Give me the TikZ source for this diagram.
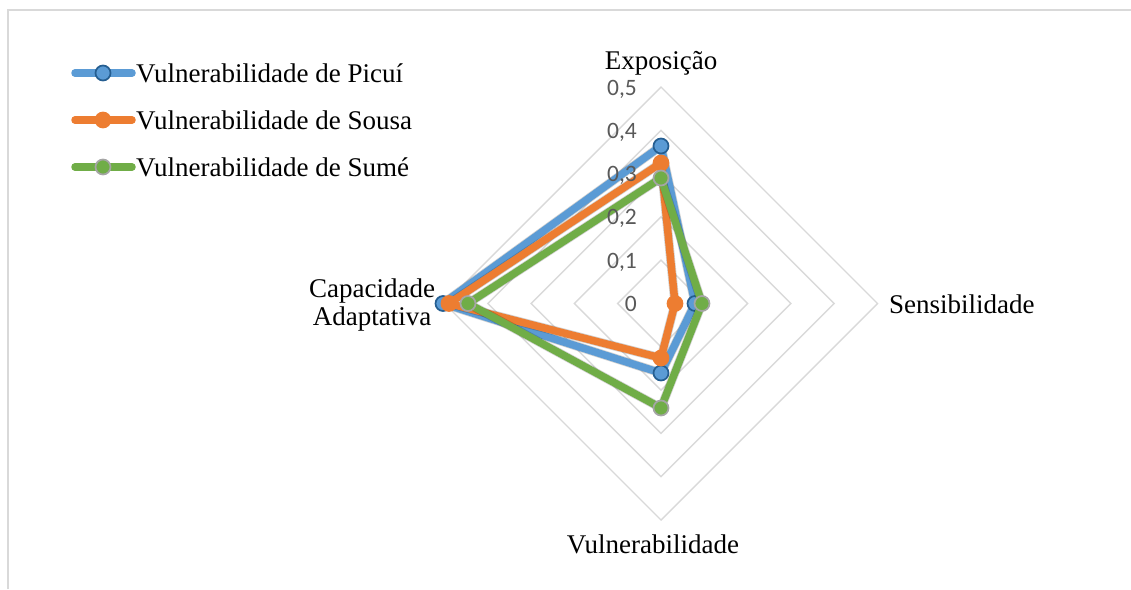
\documentclass[tikz,border=0pt]{standalone}
\usepackage{fontspec}
\setmainfont{Liberation Serif}
\newfontfamily\calib{Carlito}
\definecolor{gridgray}{HTML}{D9D9D9}
\definecolor{framegray}{HTML}{D9D9D9}
\definecolor{valgray}{HTML}{595959}
\definecolor{picblue}{HTML}{5B9BD5}
\definecolor{picdark}{HTML}{255E91}
\definecolor{souorange}{HTML}{ED7D31}
\definecolor{sougreen}{HTML}{70AD47}
\definecolor{sumgray}{HTML}{A5A5A5}
\begin{document}
\begin{tikzpicture}[x=1pt,y=-1pt,
  grid/.style={draw=gridgray,line width=1.4},
  frameline/.style={draw=framegray,line width=1.6},
  ser/.style={line width=7.5,line join=round,line cap=round},
  shad/.style={draw=black,opacity=0.18,line width=9,line join=round,line cap=round},
  mk/.style={circle,minimum size=15,inner sep=0,line width=1.7},
  mkpic/.style={mk,fill=picblue,draw=picdark},
  mksou/.style={mk,fill=souorange,draw=souorange},
  mksum/.style={mk,fill=sougreen,draw=sumgray},
  axlab/.style={font=\fontsize{27}{28}\selectfont,inner sep=0},
  leglab/.style={font=\fontsize{27}{28}\selectfont,inner sep=0,anchor=base west},
  vallab/.style={font=\calib\fontsize{23.5}{25}\selectfont,text=valgray,anchor=base east,inner sep=0},
]
\useasboundingbox (0,0) rectangle (1131,589);
% frame
\coordinate (f1) at (8,589);
\coordinate (f2) at (8,10);
\coordinate (f3) at (1131,10);
\draw[frameline] (f1) -- (f2) -- (f3);
% grid rings
\foreach \r in {43.3,86.6,129.9,173.2,216.5}
  \draw[grid] (661,303.5-\r) -- (661+\r,303.5) -- (661,303.5+\r) -- (661-\r,303.5) -- cycle;
% data coordinates
\coordinate (pE) at (661,146);
\coordinate (pS) at (695,303.5);
\coordinate (pV) at (661,373);
\coordinate (pC) at (443,303.5);
\coordinate (oE) at (661,163);
\coordinate (oS) at (675,303.5);
\coordinate (oV) at (661,358);
\coordinate (oC) at (449,303.5);
\coordinate (gE) at (661,178);
\coordinate (gS) at (702,303.5);
\coordinate (gV) at (661,408);
\coordinate (gC) at (468,303.5);
% Picui
\begin{scope}[shift={(1.5,2.5)}]
  \draw[shad] (pE) -- (pS) -- (pV) -- (pC) -- cycle;
\end{scope}
\draw[ser,picblue] (pE) -- (pS) -- (pV) -- (pC) -- cycle;
\foreach \p in {pE,pS,pV,pC} \node[mkpic] at (\p) {};
% Sousa
\begin{scope}[shift={(1.5,2.5)}]
  \draw[shad] (oE) -- (oS) -- (oV) -- (oC) -- cycle;
\end{scope}
\draw[ser,souorange] (oE) -- (oS) -- (oV) -- (oC) -- cycle;
\foreach \p in {oE,oS,oV,oC} \node[mksou] at (\p) {};
% Sume
\begin{scope}[shift={(1.5,2.5)}]
  \draw[shad] (gE) -- (gS) -- (gV) -- (gC) -- cycle;
\end{scope}
\draw[ser,sougreen] (gE) -- (gS) -- (gV) -- (gC) -- cycle;
\foreach \p in {gE,gS,gV,gC} \node[mksum] at (\p) {};
% value labels
\node[vallab] (v0) at (637,311.5) {0};
\node[vallab] (v1) at (637,268.2) {0,1};
\node[vallab] (v2) at (637,224.9) {0,2};
\node[vallab] (v3) at (637,181.6) {0,3};
\node[vallab] (v4) at (637,138.3) {0,4};
\node[vallab] (v5) at (637,95) {0,5};
% axis labels
\node[axlab,anchor=base] (lE) at (661,69) {Exposição};
\node[axlab,anchor=base west] (lS) at (889,313) {Sensibilidade};
\node[axlab,anchor=base] (lV) at (653,553) {Vulnerabilidade};
\node[axlab,anchor=base] (lC1) at (372,297) {Capacidade};
\node[axlab,anchor=base] (lC2) at (372,325) {Adaptativa};
% legend
\coordinate (a1) at (75,73);  \coordinate (b1) at (132,73);
\coordinate (a2) at (75,120); \coordinate (b2) at (132,120);
\coordinate (a3) at (75,167); \coordinate (b3) at (132,167);
\draw[ser,picblue] (a1) -- (b1);
\node[mkpic] (m1) at (103,73) {};
\node[leglab] (t1) at (136,82) {Vulnerabilidade de Picuí};
\draw[ser,souorange] (a2) -- (b2);
\node[mksou] (m2) at (103,120) {};
\node[leglab] (t2) at (136,129) {Vulnerabilidade de Sousa};
\draw[ser,sougreen] (a3) -- (b3);
\node[mksum] (m3) at (103,167) {};
\node[leglab] (t3) at (136,176) {Vulnerabilidade de Sumé};
\end{tikzpicture}
\end{document}
